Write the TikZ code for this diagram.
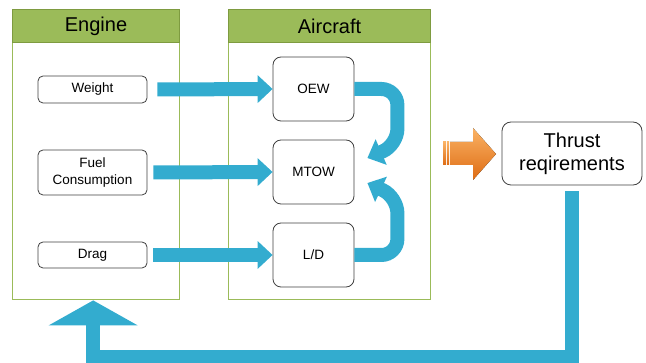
\documentclass[tikz,border=0pt]{standalone}
\usepackage{fontspec}
\setmainfont{Liberation Sans}
\usepackage{xcolor}
\usetikzlibrary{arrows.meta,positioning}
\definecolor{hdrgreen}{RGB}{155,187,89}
\definecolor{hdrline}{RGB}{126,155,64}
\definecolor{flowblue}{RGB}{51,172,207}
\definecolor{boxgray}{RGB}{64,64,64}
\definecolor{orangetop}{RGB}{250,178,100}
\definecolor{orangemid}{RGB}{244,146,52}
\definecolor{orangebot}{RGB}{222,108,20}

\begin{document}
\begin{tikzpicture}[
    x=1pt, y=-1pt,
    panel/.style={draw=hdrgreen, line width=1.4pt, inner sep=0, anchor=north west},
    header/.style={draw=hdrline, fill=hdrgreen, line width=1pt, inner sep=0, anchor=north west,
        minimum height=33pt, font=\fontsize{20}{22}\selectfont},
    inbox/.style={draw=boxgray, fill=white, rounded corners=5pt, line width=0.8pt, inner sep=0,
        minimum width=109pt, align=center, font=\fontsize{13.5}{17}\selectfont},
    acbox/.style={inbox, rounded corners=8pt, minimum width=81pt, minimum height=64pt},
    flow/.style={draw=flowblue, line width=14pt, -{Triangle[width=27pt,length=15pt]}},
    loopflow/.style={flow, rounded corners=16pt},
    feedback/.style={draw=flowblue, line width=14pt, -{Triangle[width=88pt,length=25pt]}}]
\useasboundingbox (0,0) rectangle (646,363);

% two groups
\node[panel, minimum width=167pt, minimum height=290pt] (enginepanel) at (12,9) {};
\node[header, minimum width=167pt] (engine) at (12,9) {Engine};
\node[panel, minimum width=202pt, minimum height=290pt] (aircraftpanel) at (228,9) {};
\node[header, minimum width=202pt] (aircraft) at (228,9) {Aircraft};

% engine side
\node[inbox, minimum height=27pt] (weight) at (92.5,89.5) {Weight};
\node[inbox, minimum height=45pt] (fuel) at (92.5,172.5) {Fuel\\Consumption};
\node[inbox, minimum height=26pt] (drag) at (92.5,255) {Drag};

% aircraft side
\node[acbox] (oew) at (313.5,89) {OEW};
\node[acbox] (mtow) at (313.5,172) {MTOW};
\node[acbox] (ld) at (313.5,255) {L/D};

\node[inbox, rounded corners=9pt, minimum width=140pt, minimum height=63pt,
    font=\fontsize{20}{23}\selectfont] (thrust) at (572,153.5) {Thrust\\reqirements};

\draw[flow] ([xshift=10pt]weight.east) -- (oew.west);
\draw[flow] ([xshift=6pt]fuel.east) -- (mtow.west);
\draw[flow] ([xshift=6pt]drag.east) -- (ld.west);

\draw[loopflow] (oew.east) -- ++(43,0) -- ++(0,56) -- ([xshift=13pt,yshift=14pt]mtow.east);
\draw[loopflow] (ld.east) -- ++(43,0) -- ++(0,-58) -- ([xshift=13pt,yshift=-11pt]mtow.east);

% block arrow into the result
\fill[top color=orangetop, middle color=orangemid, bottom color=orangebot]
    (450,142) -- (473,142) -- (473,128) -- (496,154) -- (473,180) -- (473,165) -- (450,165) -- cycle;
\fill[top color=orangetop, middle color=orangemid, bottom color=orangebot] (443,142) rectangle (446,165);
\fill[top color=orangetop, middle color=orangemid, bottom color=orangebot] (447,142) rectangle (449,165);

\draw[feedback] ([yshift=-6pt]thrust.south) |- ([xshift=-3pt,yshift=-57pt]enginepanel.south)
    -- ([xshift=-3pt]enginepanel.south);

\end{tikzpicture}
\end{document}
